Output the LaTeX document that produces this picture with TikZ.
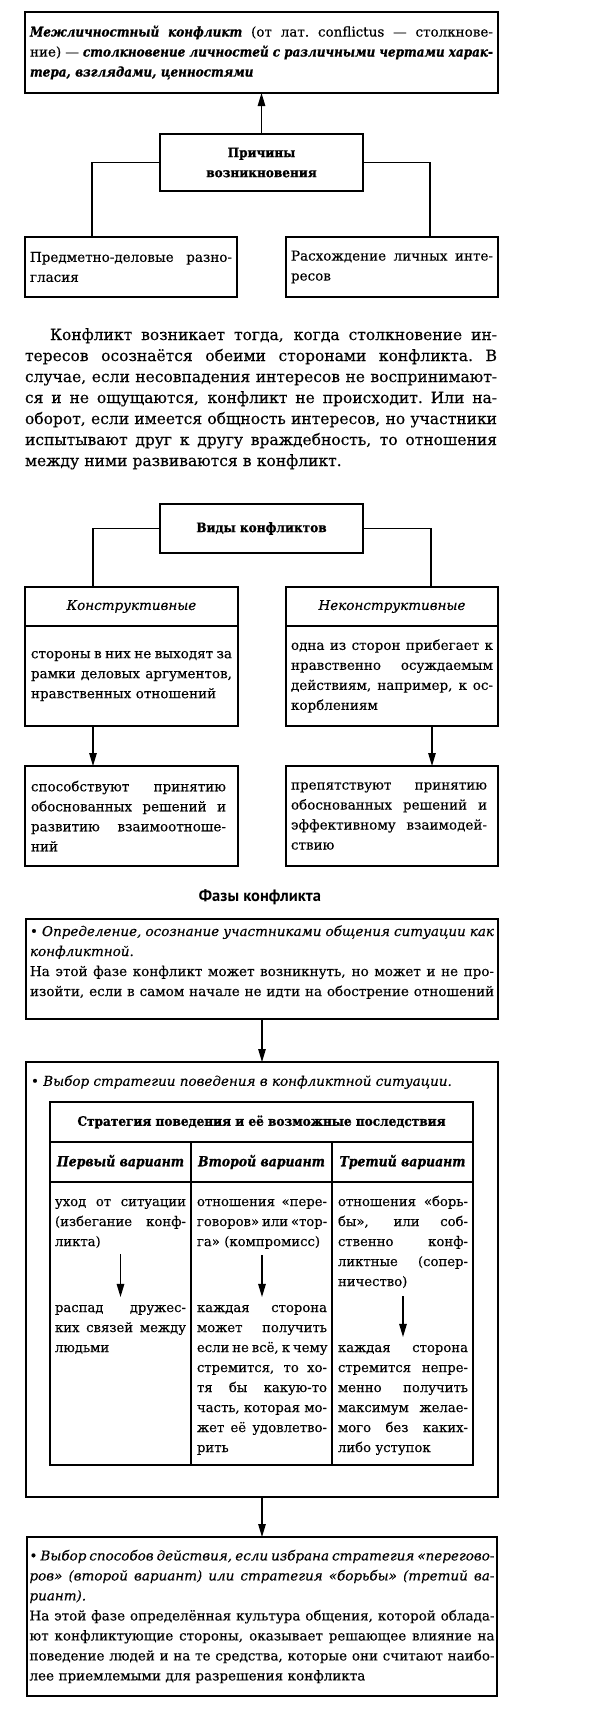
\documentclass[tikz,border=0pt]{standalone}
\usepackage{fontspec}
\setmainfont{DejaVu Serif}[UprightFeatures={FakeBold=0.3},ItalicFeatures={FakeBold=0.3}]
\newfontface\hb{DejaVu Serif Bold}[FakeStretch=0.93,FakeBold=1.2]
\newfontface\hbit{DejaVu Serif Bold Italic}[FakeStretch=0.89,FakeBold=0.8]
\newfontfamily\ptsans{PT Sans}
\usetikzlibrary{arrows.meta,calc}
\newcommand\jl[2][\hsize]{\leavevmode\hbox to #1{\spaceskip=.32em plus 1fil minus .1em\xspaceskip=\spaceskip\relax #2}}
\newcommand\bi[1]{{\hbit #1}}
\newcommand\bxf{\fontsize{13.5}{20}\selectfont}
\newcommand\tbf{\fontsize{13.2}{20}\selectfont}
\newcommand\prf{\fontsize{15.5}{21}\selectfont}
\begin{document}
\begin{tikzpicture}[x=1pt,y=-1pt,
  box/.style={draw,line width=1.3pt,inner sep=0pt,outer sep=0pt,align=left,font=\bxf},
  ln/.style={line width=1.2pt},
  arr/.style={line width=1.2pt,-{Triangle[length=13pt,width=7.5pt]}},
  tx/.style={inner sep=0pt,outer sep=0pt,align=left,font=\bxf},
  cell/.style={inner sep=0pt,outer sep=0pt,align=left,font=\tbf,anchor=base west},
  hd/.style={inner sep=0pt,outer sep=0pt,font=\fontsize{13}{20}\hb},
  colhd/.style={inner sep=0pt,outer sep=0pt,font=\fontsize{14}{20}\hbit},
  kindhd/.style={box,font=\fontsize{13.5}{20}\selectfont\itshape},
]
\fill[white] (0,0) rectangle (600,1711);
\useasboundingbox (0,0) rectangle (600,1711);

% ---------- definition and causes
\node[box,minimum width=473pt,minimum height=81pt,text width=463pt] (def) at (261.5,52.5)
 {\jl{\bi{Межличностный конфликт} (от лат. conflictus — столкнове-}\\\jl{ние) — \bi{столкновение личностей с различными чертами харак-}}\\\bi{тера, взглядами, ценностями}};
\node[box,minimum width=203pt,minimum height=57pt,align=center,font=\fontsize{13}{20}\hb] (cause) at (261.5,162.5) {Причины\\возникновения};
\node[box,minimum width=212pt,minimum height=60pt,text width=202pt] (lc) at (131,267) {\jl{Предметно-деловые разно-}\\гласия};
\node[box,minimum width=212pt,minimum height=60pt,text width=202pt] (rc) at (392,267) {\jl{Расхождение личных инте-}\\ресов};
\draw[arr] (cause.north) -- (def.south);
\draw[ln] (cause.west) -| ([xshift=67pt]lc.north west);
\draw[ln] (cause.east) -| ([xshift=-68pt]rc.north east);

% ---------- paragraph
\node[tx,font=\prf,text width=472pt,anchor=base west] (par) at (25,340)
 {\hspace*{25pt}\jl[447pt]{Конфликт возникает тогда, когда столкновение ин-}\\\jl{тересов осознаётся обеими сторонами конфликта. В}\\\jl{случае, если несовпадения интересов не воспринимают-}\\\jl{ся и не ощущаются, конфликт не происходит. Или на-}\\\jl{оборот, если имеется общность интересов, но участники}\\\jl{испытывают друг к другу враждебность, то отношения}\\между ними развиваются в конфликт.};

% ---------- kinds
\node[box,minimum width=203pt,minimum height=49pt,font=\fontsize{13}{20}\hb] (vidy) at (261.5,528.5) {Виды конфликтов};
\node[kindhd,minimum width=213pt,minimum height=39pt] (kh) at (131.5,606.5) {Конструктивные};
\node[box,minimum width=213pt,minimum height=100pt,text width=201pt] (kb) at (131.5,676) {\jl{стороны в них не выходят за}\\\jl{рамки деловых аргументов,}\\нравственных отношений};
\node[kindhd,minimum width=212pt,minimum height=39pt] (nh) at (392,606.5) {Неконструктивные};
\node[box,minimum width=212pt,minimum height=100pt,text width=202pt] (nb) at (392,676) {\jl{одна из сторон прибегает к}\\\jl{нравственно осуждаемым}\\\jl{действиям, например, к ос-}\\корблениям};
\draw[ln] (vidy.west) -| ([xshift=68pt]kh.north west);
\draw[ln] (vidy.east) -| ([xshift=-67pt]nh.north east);
\node[box,minimum width=213pt,minimum height=100pt,text width=201pt] (kr) at (131.5,816) {\jl[195pt]{способствуют принятию}\\\jl[195pt]{обоснованных решений и}\\\jl[195pt]{развитию взаимоотноше-}\\ний};
\node[box,minimum width=212pt,minimum height=100pt,text width=202pt] (nr) at (392,816) {\jl[196pt]{препятствуют принятию}\\\jl[196pt]{обоснованных решений и}\\\jl[196pt]{эффективному взаимодей-}\\ствию};
\draw[arr] ([xshift=68pt]kb.south west) -- ([xshift=68pt]kr.north west);
\draw[arr] ([xshift=-66pt]nb.south east) -- ([xshift=-66pt]nr.north east);

% ---------- phases
\node[inner sep=0pt,font=\ptsans\bfseries\fontsize{16.5}{18}\selectfont] (ftitle) at (260,897) {Фазы конфликта};
\node[box,minimum width=472pt,minimum height=100pt] (p1) at (262,969) {};
\node[tx,text width=464pt,anchor=base west] (p1t) at (30,936)
 {\jl{• \textit{Определение, осознание участниками общения ситуации как}}\\\textit{конфликтной.}\\\jl{На этой фазе конфликт может возникнуть, но может и не про-}\\\jl{изойти, если в самом начале не идти на обострение отношений}};
\node[box,minimum width=472pt,minimum height=435pt] (p2) at (262,1279.5) {};
\draw[arr] (p1.south) -- (p2.north);
\node[tx,anchor=west] (p2t) at (31,1082) {• \textit{Выбор стратегии поведения в конфликтной ситуации.}};

% table
\node[box,minimum width=423pt,minimum height=363pt] (tbl) at (261.5,1283.5) {};
\draw[ln] ([yshift=-40pt]tbl.north west) -- ([yshift=-40pt]tbl.north east);
\draw[ln] ([yshift=-80pt]tbl.north west) -- ([yshift=-80pt]tbl.north east);
\draw[ln] ([xshift=141pt,yshift=-40pt]tbl.north west) -- ([xshift=141pt]tbl.south west);
\draw[ln] ([xshift=282pt,yshift=-40pt]tbl.north west) -- ([xshift=282pt]tbl.south west);
\node[hd] (th) at (261.5,1122) {Стратегия поведения и её возможные последствия};
\node[colhd] (h1) at (120.5,1162) {Первый вариант};
\node[colhd] (h2) at (261.5,1162) {Второй вариант};
\node[colhd] (h3) at (402.5,1162) {Третий вариант};

\node[cell,text width=131pt] (c1a) at (55,1206) {\jl{уход от ситуации}\\\jl{(избегание конф-}\\ликта)};
\node[cell,text width=131pt] (c1b) at (55,1312) {\jl{распад дружес-}\\\jl{ких связей между}\\людьми};
\node[cell,text width=130pt] (c2a) at (197,1206) {\jl{отношения «пере-}\\\jl{говоров» или «тор-}\\га» (компромисс)};
\node[cell,text width=130pt] (c2b) at (197,1312) {\jl{каждая сторона}\\\jl{может получить}\\\jl{если не всё, к чему}\\\jl{стремится, то хо-}\\\jl{тя бы какую-то}\\\jl{часть, которая мо-}\\\jl{жет её удовлетво-}\\рить};
\node[cell,text width=130pt] (c3a) at (338,1206) {\jl{отношения «борь-}\\\jl{бы», или соб-}\\\jl{ственно конф-}\\\jl{ликтные (сопер-}\\ничество)};
\node[cell,text width=130pt] (c3b) at (338,1352) {\jl{каждая сторона}\\\jl{стремится непре-}\\\jl{менно получить}\\\jl{максимум желае-}\\\jl{мого без каких-}\\либо уступок};
\draw[arr,shorten <=6pt,shorten >=8pt] (c1a.south) -- (c1b.north);
\draw[arr,shorten <=6pt,shorten >=8pt] (c2a.south) -- (c2b.north);
\draw[arr,shorten <=8pt,shorten >=8pt] (c3a.south) -- (c3b.north);

\node[box,minimum width=470pt,minimum height=159pt,text width=465pt] (p3) at (262,1616.5)
 {\jl{• \textit{Выбор способов действия, если избрана стратегия «перегово-}}\\\jl{\textit{ров» (второй вариант) или стратегия «борьбы» (третий ва-}}\\\textit{риант).}\\\jl{На этой фазе определённая культура общения, которой облада-}\\\jl{ют конфликтующие стороны, оказывает решающее влияние на}\\\jl{поведение людей и на те средства, которые они считают наибо-}\\лее приемлемыми для разрешения конфликта};
\draw[arr] (p2.south) -- (p3.north);
\end{tikzpicture}
\end{document}
